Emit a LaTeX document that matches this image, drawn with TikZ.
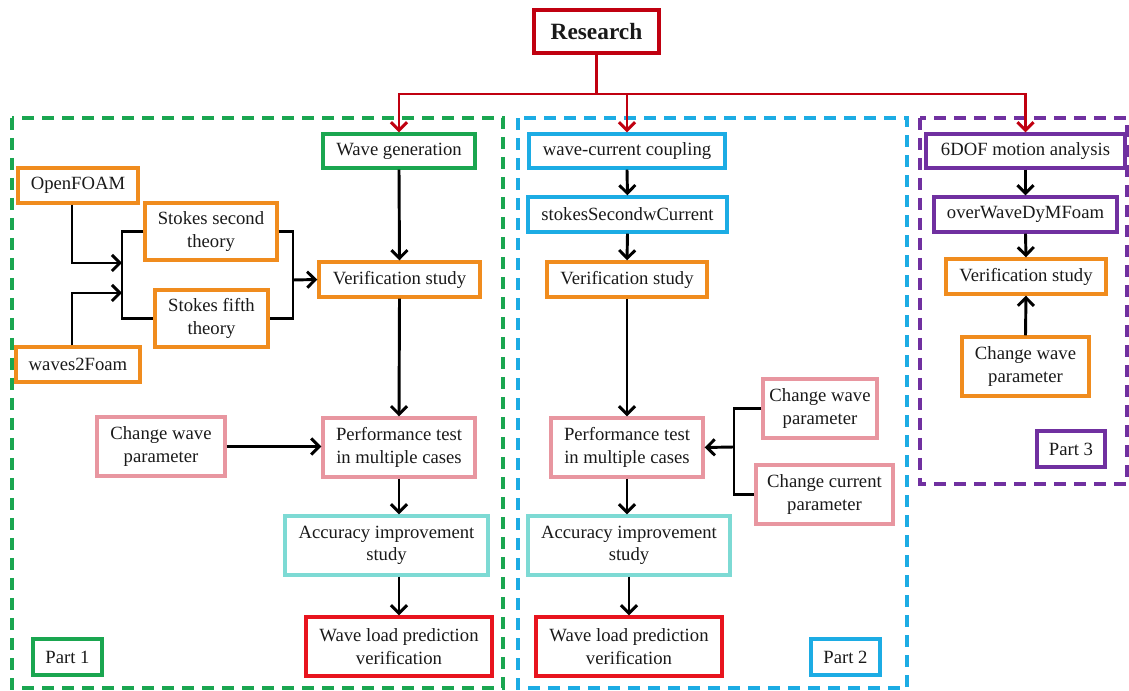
\documentclass[tikz,border=0pt]{standalone}
\usepackage{fontspec}
\setmainfont{Liberation Serif}
\usetikzlibrary{arrows.meta}
\definecolor{cgreen}{RGB}{26,166,80}
\definecolor{corange}{RGB}{240,140,30}
\definecolor{cpink}{RGB}{232,150,160}
\definecolor{cteal}{RGB}{125,218,212}
\definecolor{cred}{RGB}{232,20,30}
\definecolor{cdred}{RGB}{192,0,16}
\definecolor{cblue}{RGB}{28,172,228}
\definecolor{cpurple}{RGB}{112,48,160}
\newcommand\bx[7]{\node[bx,draw=#2,minimum width={(#5-#3)*0.75pt},minimum height={(#6-#4)*0.75pt}] (#1) at ({(#3+#5)/2},{(#4+#6)/2}) {#7};}
\tikzset{
  bx/.style={inner sep=0pt, line width=2.6pt, align=center, font=\fontsize{14}{17}\selectfont, text=black!90},
  dbox/.style={line width=2.6pt, dash pattern=on 9pt off 6pt},
  arr/.style={line width=2.2pt, -{Straight Barb[length=6pt,width=12pt]}},
  ln/.style={line width=2.2pt},
  rarr/.style={line width=2.2pt, draw=cdred, -{Straight Barb[length=6pt,width=12pt]}},
}
\begin{document}
\begin{tikzpicture}[x=0.75pt,y=-0.75pt]
\useasboundingbox (0,0) rectangle (1129,691);
% dashed regions
\draw[dbox,draw=cgreen] (12,118) rectangle (503,688);
\draw[dbox,draw=cblue] (518,118) rectangle (907,688);
\draw[dbox,draw=cpurple] (920,118) rectangle (1127,484);
% nodes
\bx{res}{cdred}{534}{10}{659}{53}{\fontsize{17.5}{20}\selectfont\bfseries Research}
% part 1
\bx{wg}{cgreen}{323}{134}{475}{168}{Wave generation}
\bx{of}{corange}{18}{168}{138}{203}{OpenFOAM}
\bx{s2}{corange}{145}{203}{277}{260}{Stokes second\\theory}
\bx{s5}{corange}{155}{290}{268}{347}{Stokes fifth\\theory}
\bx{w2f}{corange}{16}{347}{140}{382}{waves2Foam}
\bx{vs1}{corange}{319}{262}{480}{297}{Verification study}
\bx{cw1}{cpink}{97}{417}{225}{476}{Change wave\\parameter}
\bx{pt1}{cpink}{323}{418}{475}{477}{Performance test\\in multiple cases}
\bx{ai1}{cteal}{285}{516}{488}{575}{Accuracy improvement\\study}
\bx{wl1}{cred}{306}{617}{492}{676}{Wave load prediction\\verification}
\bx{p1}{cgreen}{33}{639}{102}{675}{Part 1}
% part 2
\bx{wc}{cblue}{529}{134}{725}{168}{wave-current coupling}
\bx{ssc}{cblue}{528}{197}{727}{232}{stokesSecondwCurrent}
\bx{vs2}{corange}{547}{262}{707}{297}{Verification study}
\bx{pt2}{cpink}{551}{418}{703}{477}{Performance test\\in multiple cases}
\bx{cw2}{cpink}{763}{379}{877}{438}{Change wave\\parameter}
\bx{cc2}{cpink}{756}{465}{893}{524}{Change current\\parameter}
\bx{ai2}{cteal}{528}{516}{730}{575}{Accuracy improvement\\study}
\bx{wl2}{cred}{536}{617}{722}{676}{Wave load prediction\\verification}
\bx{p2}{cblue}{811}{639}{880}{675}{Part 2}
% part 3
\bx{dof}{cpurple}{926}{134}{1125}{168}{6DOF motion analysis}
\bx{ow}{cpurple}{934}{197}{1117}{232}{overWaveDyMFoam}
\bx{vs3}{corange}{946}{259}{1106}{294}{Verification study}
\bx{cw3}{corange}{962}{337}{1089}{396}{Change wave\\parameter}
\bx{p3}{cpurple}{1037}{431}{1105}{467}{Part 3}
% junction coordinates
\coordinate (rj) at (596.5,94);
\coordinate (j1) at (122,263);
\coordinate (j2) at (122,293);
\coordinate (bl) at (122,275);
\coordinate (br) at (293,280);
\coordinate (br2) at (734,447);
% research connectors
\draw[ln,draw=cdred] (res.south) -- (rj);
\draw[rarr] (rj) -| (wg.north);
\draw[rarr] (rj) -| (wc.north);
\draw[rarr] (rj) -| (dof.north);
% part 1 connectors
\draw[arr] ([xshift=-4.5pt]of.south) |- (j1);
\draw[arr] ([xshift=-4.5pt]w2f.north) |- (j2);
\draw[ln] (s2.west) -| (bl) |- (s5.west);
\draw[ln] (s2.east) -| (br) |- (s5.east);
\draw[arr] (br) -- (vs1.west);
\draw[arr] (wg.south) -- (vs1.north);
\draw[arr] (vs1.south) -- (pt1.north);
\draw[arr] (cw1.east) -- (cw1.east -| pt1.west);
\draw[arr] (pt1.south) -- (pt1.south |- ai1.north);
\draw[arr] (wl1.north |- ai1.south) -- (wl1.north);
% part 2 connectors
\draw[arr] (wc.south) -- (ssc.north);
\draw[arr] (ssc.south) -- (vs2.north);
\draw[arr] (vs2.south) -- (pt2.north);
\draw[ln] (cw2.west) -| (br2) |- (cc2.west);
\draw[arr] (br2) -- (pt2.east);
\draw[arr] (pt2.south) -- (pt2.south |- ai2.north);
\draw[arr] (wl2.north |- ai2.south) -- (wl2.north);
% part 3 connectors
\draw[arr] (dof.south) -- (ow.north);
\draw[arr] (ow.south) -- (vs3.north);
\draw[arr] (cw3.north) -- (vs3.south);
\end{tikzpicture}
\end{document}
